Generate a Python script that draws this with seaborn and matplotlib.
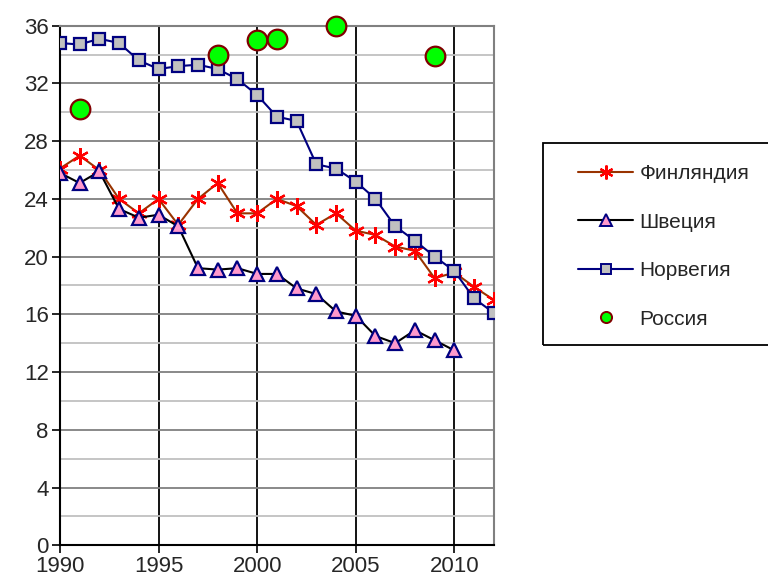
import matplotlib
matplotlib.use("Agg")
import matplotlib.pyplot as plt
import pandas as pd
import seaborn as sns
from matplotlib.lines import Line2D
from matplotlib.patches import Rectangle
from matplotlib.ticker import MultipleLocator

years = list(range(1990, 2013))
finland = [26.1, 27.0, 26.0, 24.0, 23.0, 24.0, 22.2, 24.0, 25.1, 23.0, 23.0, 24.0,
           23.5, 22.2, 23.0, 21.8, 21.5, 20.7, 20.4, 18.5, 18.9, 17.9, 17.0]
sweden_years = list(range(1990, 2011))
sweden = [25.8, 25.1, 25.9, 23.3, 22.7, 22.9, 22.1, 19.2, 19.1, 19.2, 18.8, 18.8,
          17.8, 17.4, 16.2, 15.9, 14.5, 14.0, 14.9, 14.2, 13.5]
norway = [34.8, 34.7, 35.1, 34.8, 33.6, 33.0, 33.2, 33.3, 33.0, 32.3, 31.2, 29.7,
          29.4, 26.4, 26.1, 25.2, 24.0, 22.1, 21.1, 20.0, 19.0, 17.1, 16.1]
russia_years = [1991, 1998, 2000, 2001, 2004, 2009]
russia = [30.2, 34.0, 35.0, 35.1, 36.0, 33.9]

names = ["Финляндия", "Швеция", "Норвегия", "Россия"]

sns.set_style("white")
plt.rcParams["font.family"] = ["Liberation Sans", "DejaVu Sans"]

fig = plt.figure(figsize=(7.68, 5.85), dpi=100)
ax = fig.add_axes([0.078, 0.068, 0.565, 0.888])

# grid first
ax.yaxis.set_major_locator(MultipleLocator(4))
ax.yaxis.set_minor_locator(MultipleLocator(2))
ax.xaxis.set_major_locator(MultipleLocator(5))
ax.grid(True, which="major", axis="y", color="#808080", lw=1.3)
ax.grid(True, which="minor", axis="y", color="#C0C0C0", lw=1.3)
ax.grid(True, which="major", axis="x", color="black", lw=1.3)
ax.set_axisbelow(True)

fin_df = pd.DataFrame({"year": years, "value": finland})
swe_df = pd.DataFrame({"year": sweden_years, "value": sweden})
nor_df = pd.DataFrame({"year": years, "value": norway})
rus_df = pd.DataFrame({"year": russia_years, "value": russia})

sns.lineplot(data=fin_df, x="year", y="value", ax=ax, color="#993300", lw=1.5,
             marker=(6, 2, 0), markersize=12, markeredgecolor="red",
             markeredgewidth=1.6, zorder=3)
sns.lineplot(data=swe_df, x="year", y="value", ax=ax, color="black", lw=1.5,
             marker="^", markersize=10, markerfacecolor="#FF99CC",
             markeredgecolor="#000080", markeredgewidth=1.6, zorder=4)
sns.lineplot(data=nor_df, x="year", y="value", ax=ax, color="#000080", lw=1.5,
             marker="s", markersize=9, markerfacecolor="#C0C0C0",
             markeredgecolor="#000080", markeredgewidth=1.6, zorder=5)
sns.scatterplot(data=rus_df, x="year", y="value", ax=ax, s=200, color="#00FF00",
                edgecolor="#800000", linewidth=1.6, zorder=6, clip_on=False)

ax.set_xlim(1990, 2012)
ax.set_ylim(0, 36)
ax.set_xlabel("")
ax.set_ylabel("")
ax.tick_params(axis="both", which="major", labelsize=16, length=6, width=1.2,
               direction="out", color="black", bottom=True, left=True, pad=2)
ax.tick_params(axis="both", which="minor", length=0)
for side in ["left", "bottom"]:
    ax.spines[side].set_color("black")
    ax.spines[side].set_linewidth(1.5)
for side in ["top", "right"]:
    ax.spines[side].set_color("#808080")
    ax.spines[side].set_linewidth(1.5)

# legend box
fig.patches.append(Rectangle((543 / 768, 1 - 345 / 585), 0.31, (345 - 143) / 585,
                             transform=fig.transFigure, fill=False,
                             edgecolor="black", lw=1.3))
handles = [
    Line2D([], [], color="#993300", lw=1.5, marker=(6, 2, 0), markersize=10,
           markeredgecolor="red", markeredgewidth=1.6),
    Line2D([], [], color="black", lw=1.5, marker="^", markersize=8,
           markerfacecolor="#FF99CC", markeredgecolor="#000080", markeredgewidth=1.4),
    Line2D([], [], color="#000080", lw=1.5, marker="s", markersize=7,
           markerfacecolor="#C0C0C0", markeredgecolor="#000080", markeredgewidth=1.4),
    Line2D([], [], lw=0, marker="o", markersize=8, markerfacecolor="#00FF00",
           markeredgecolor="#800000", markeredgewidth=1.4),
]
leg = fig.legend(handles, names, loc="upper left",
                 bbox_to_anchor=(578 / 768, 1 - 164 / 585),
                 fontsize=15, frameon=False, labelspacing=1.42, borderpad=0,
                 handlelength=2.65, handletextpad=0.3, borderaxespad=0)

fig.savefig("out.png", dpi=100)
